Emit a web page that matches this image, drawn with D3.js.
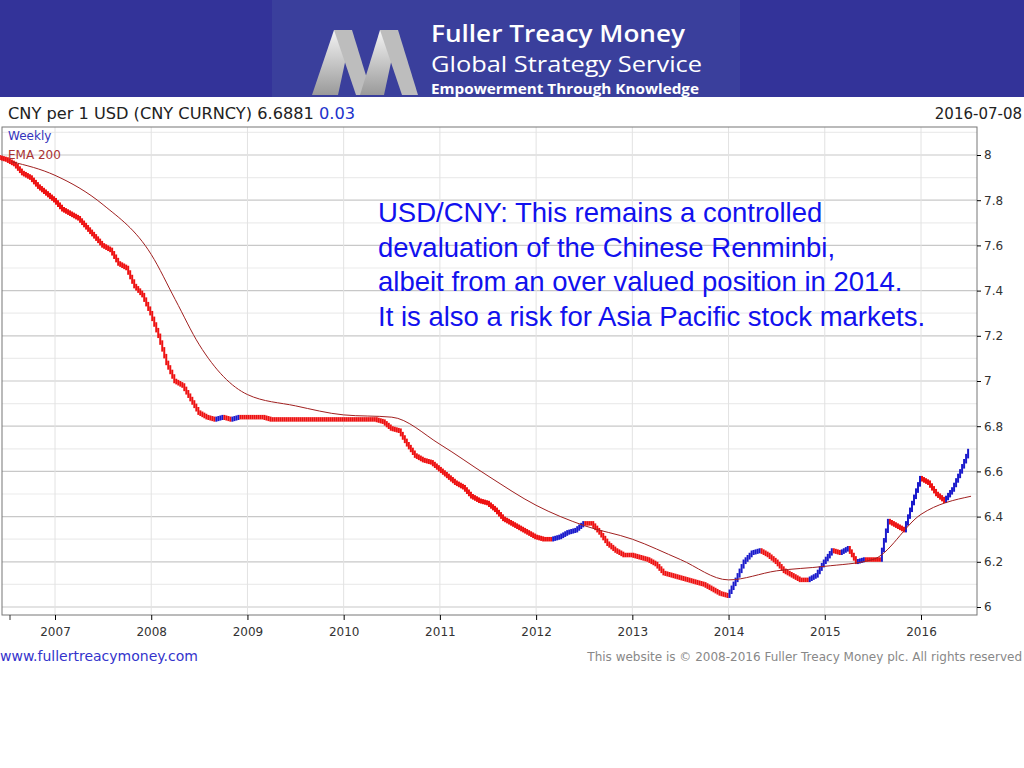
<!DOCTYPE html>
<html>
<head>
<meta charset="utf-8">
<script src="https://cdn.jsdelivr.net/npm/d3@7"></script>
<style>
  body { margin: 0; background: #fff; }
  svg { display: block; }
</style>
</head>
<body>
<div id="chart"></div>
<script>
// monthly closes, Jul 2006 .. Jul 2016
const startMonth = [2006, 6];
const closes = [
  7.98, 7.96, 7.92, 7.90, 7.86, 7.83,
  7.80, 7.76, 7.74, 7.72, 7.68, 7.64, 7.60, 7.58, 7.52, 7.50, 7.42, 7.38,
  7.30, 7.20, 7.08, 7.00, 6.98, 6.92, 6.86, 6.84, 6.83, 6.84, 6.83, 6.84,
  6.84, 6.84, 6.84, 6.83, 6.83, 6.83, 6.83, 6.83, 6.83, 6.83, 6.83, 6.83,
  6.83, 6.83, 6.83, 6.83, 6.83, 6.82, 6.79, 6.78, 6.72, 6.67, 6.65, 6.64,
  6.61, 6.58, 6.55, 6.53, 6.49, 6.47, 6.46, 6.43, 6.39, 6.37, 6.35, 6.33,
  6.31, 6.30, 6.30, 6.31, 6.33, 6.34, 6.37, 6.37, 6.33, 6.28, 6.25, 6.23,
  6.23, 6.22, 6.21, 6.19, 6.15, 6.14, 6.13, 6.12, 6.11, 6.10, 6.08, 6.06,
  6.05, 6.12, 6.20, 6.24, 6.25, 6.23, 6.20, 6.16, 6.14, 6.12, 6.12, 6.14,
  6.20, 6.25, 6.24, 6.26, 6.20, 6.21, 6.21, 6.21, 6.38, 6.36, 6.34, 6.46,
  6.57, 6.55, 6.50, 6.47, 6.52, 6.60, 6.69
];
// EMA 200 (weekly), read at half-year points
const emaYears = [2006.55, 2007, 2007.5, 2008, 2008.25, 2008.5, 2009, 2009.5, 2010, 2010.5,
  2011, 2011.5, 2012, 2012.5, 2013, 2013.5, 2014, 2014.5, 2015, 2015.5, 2016, 2016.52];
const emaValues = [7.97, 7.91, 7.78, 7.56, 7.36, 7.16, 6.94, 6.89, 6.85, 6.84,
  6.72, 6.58, 6.45, 6.36, 6.30, 6.21, 6.12, 6.16, 6.18, 6.21, 6.41, 6.49];
const yearTicks = [2007, 2008, 2009, 2010, 2011, 2012, 2013, 2014, 2015, 2016];
const yTicks = [6, 6.2, 6.4, 6.6, 6.8, 7, 7.2, 7.4, 7.6, 7.8, 8];
const noteLines = [
  "USD/CNY: This remains a controlled",
  "devaluation of the Chinese Renminbi,",
  "albeit from an over valued position in 2014.",
  "It is also a risk for Asia Pacific stock markets."
];

const W = 1024, H = 768;
const svg = d3.select("#chart").append("svg").attr("width", W).attr("height", H);

// header banner
svg.append("rect").attr("x", 0).attr("y", 0).attr("width", W).attr("height", 97).attr("fill", "#333399");
svg.append("rect").attr("x", 272).attr("y", 0).attr("width", 468).attr("height", 97).attr("fill", "#3a3f9c");
const grad = svg.append("defs").append("linearGradient").attr("id", "mg").attr("x1", 0).attr("x2", 0).attr("y1", 0).attr("y2", 1);
grad.append("stop").attr("offset", "0%").attr("stop-color", "#f4f4f4");
grad.append("stop").attr("offset", "100%").attr("stop-color", "#9a9a9a");
svg.append("path").attr("d", "M312,95 L334,30 L352,30 L338,95 Z").attr("fill", "url(#mg)");
svg.append("path").attr("d", "M334,30 L352,30 L372,95 L356,95 Z").attr("fill", "#bdbdbd");
svg.append("path").attr("d", "M360,95 L380,30 L398,30 L384,95 Z").attr("fill", "url(#mg)");
svg.append("path").attr("d", "M380,30 L398,30 L418,95 L402,95 Z").attr("fill", "#bdbdbd");
svg.append("text").attr("x", 431).attr("y", 42).attr("fill", "#fff").attr("font-family", "Open Sans")
  .attr("font-weight", 600).attr("font-size", 23).attr("textLength", 254).attr("lengthAdjust", "spacingAndGlyphs").text("Fuller Treacy Money");
svg.append("text").attr("x", 431).attr("y", 72).attr("fill", "#fff").attr("font-family", "Open Sans")
  .attr("font-size", 22).attr("textLength", 271).attr("lengthAdjust", "spacingAndGlyphs").text("Global Strategy Service");
svg.append("text").attr("x", 431).attr("y", 94).attr("fill", "#fff").attr("font-family", "Open Sans")
  .attr("font-weight", "bold").attr("font-size", 15).attr("textLength", 268).attr("lengthAdjust", "spacingAndGlyphs").text("Empowerment Through Knowledge");

// title row
const title = svg.append("text").attr("x", 8).attr("y", 119).attr("font-family", "DejaVu Sans")
  .attr("font-size", 15).attr("fill", "#222").attr("textLength", 347).attr("lengthAdjust", "spacingAndGlyphs");
title.append("tspan").text("CNY per 1 USD (CNY CURNCY) 6.6881 ");
title.append("tspan").attr("fill", "#2233cc").text("0.03");
svg.append("text").attr("x", 1022).attr("y", 119).attr("text-anchor", "end").attr("font-family", "DejaVu Sans")
  .attr("font-size", 15).attr("fill", "#222").text("2016-07-08");

// plot
const x0 = 2, x1 = 977, yTop = 127, yBot = 615;
const x = d3.scaleLinear().domain([2007, 2016]).range([55, 921]);
const y = d3.scaleLinear().domain([6, 8]).range([607, 155]);
const g = svg.append("g");

// grid
d3.range(6, 8.11, 0.1).forEach(v => {
  g.append("line").attr("x1", x0).attr("x2", x1).attr("y1", y(v)).attr("y2", y(v))
    .attr("stroke", Math.abs(v * 5 - Math.round(v * 5)) < 1e-6 ? "#c8c8c8" : "#ececec").attr("stroke-width", 1.2);
});
yearTicks.forEach(t => {
  g.append("line").attr("x1", x(t)).attr("x2", x(t)).attr("y1", yTop).attr("y2", yBot)
    .attr("stroke", "#e2e2e2");
});
g.append("rect").attr("x", x0).attr("y", yTop).attr("width", x1 - x0).attr("height", yBot - yTop)
  .attr("fill", "none").attr("stroke", "#777");

// axes
const yAxis = d3.axisRight(y).tickValues(yTicks).tickSize(4).tickFormat(d => d3.format("")(+d.toFixed(1)));
const ya = svg.append("g").attr("transform", `translate(${x1},0)`).call(yAxis);
ya.select(".domain").remove();
ya.selectAll("text").attr("font-family", "DejaVu Sans").attr("font-size", 12).attr("fill", "#333");
const xAxis = d3.axisBottom(x).tickValues(yearTicks).tickSize(5).tickFormat(d3.format("d"));
const xa = svg.append("g").attr("transform", `translate(0,${yBot})`).call(xAxis);
xa.select(".domain").remove();
xa.selectAll("text").attr("font-family", "DejaVu Sans").attr("font-size", 12).attr("fill", "#333").attr("dy", "1.1em");
svg.append("line").attr("x1", 10).attr("x2", 10).attr("y1", yBot).attr("y2", yBot + 5).attr("stroke", "#333");

// price bars: each month split into four weekly bars between previous close and close
const bars = closes.map((c, i) => {
  const t = startMonth[0] + (startMonth[1] + i) / 12;
  const o = i === 0 ? c + 0.01 : closes[i - 1];
  return { t, o, c };
});
const bw = x(2007 + 1 / 12) - x(2007);
bars.forEach(b => {
  const up = b.c > b.o;
  const col = up ? "#1a1acc" : "#ee1111";
  for (let k = 0; k < 4; k++) {
    const f0 = k / 4, f1 = (k + 1) / 4;
    const xx = x(b.t) - bw + bw * (k + 0.5) / 4;
    const a = b.o + (b.c - b.o) * f0, z = b.o + (b.c - b.o) * f1;
    g.append("line").attr("x1", xx).attr("x2", xx)
      .attr("y1", y(Math.max(a, z) + 0.01)).attr("y2", y(Math.min(a, z) - 0.01))
      .attr("stroke", col).attr("stroke-width", 2);
  }
});

// EMA
const line = d3.line().x(d => x(d[0])).y(d => y(d[1])).curve(d3.curveMonotoneX);
g.append("path").datum(emaYears.map((t, i) => [t, emaValues[i]])).attr("d", line)
  .attr("fill", "none").attr("stroke", "#a02020").attr("stroke-width", 1);

// legend
svg.append("text").attr("x", 8).attr("y", 140).attr("font-family", "DejaVu Sans").attr("font-size", 12)
  .attr("fill", "#3333bb").text("Weekly");
svg.append("text").attr("x", 8).attr("y", 159).attr("font-family", "DejaVu Sans").attr("font-size", 12)
  .attr("fill", "#aa3333").text("EMA 200");

// annotation
noteLines.forEach((s, i) => {
  svg.append("text").attr("x", 378).attr("y", 222 + i * 34.5).attr("font-family", "Liberation Sans")
    .attr("font-size", 27.5).attr("fill", "#1111ee").text(s);
});

// footer
svg.append("text").attr("x", 0).attr("y", 661).attr("font-family", "DejaVu Sans").attr("font-size", 14)
  .attr("fill", "#3333cc").text("www.fullertreacymoney.com");
svg.append("text").attr("x", 1022).attr("y", 661).attr("text-anchor", "end").attr("font-family", "DejaVu Sans")
  .attr("font-size", 12).attr("fill", "#888").text("This website is © 2008-2016 Fuller Treacy Money plc. All rights reserved");
</script>
</body>
</html>
